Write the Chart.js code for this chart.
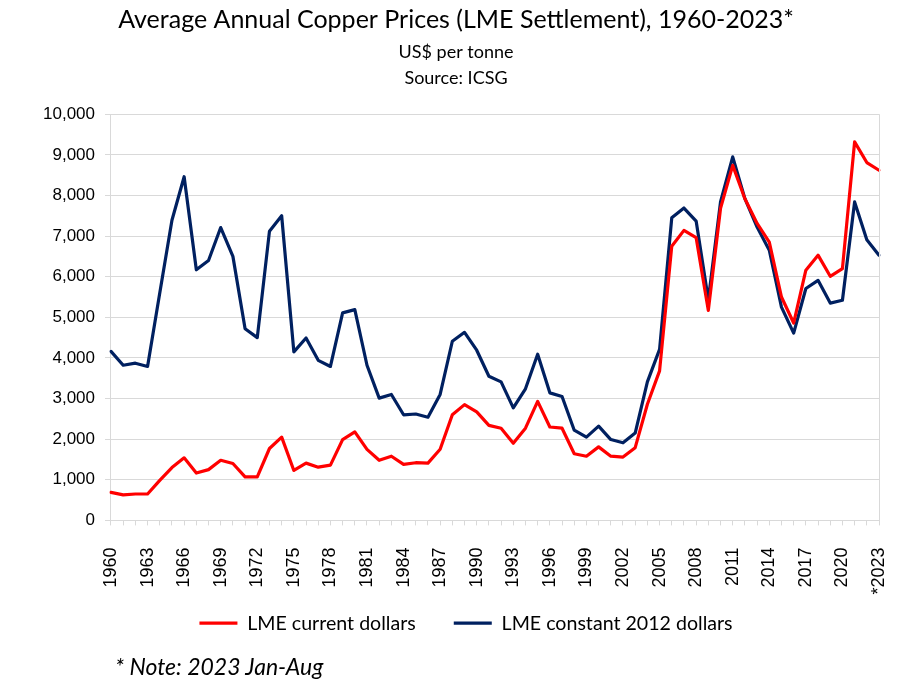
<!DOCTYPE html>
<html>
<head>
<meta charset="utf-8">
<script src="https://cdn.jsdelivr.net/npm/chart.js@4.4.0/dist/chart.umd.min.js"></script>
<style>
    html, body { margin: 0; padding: 0; background: #fff; }
    #wrap { position: relative; width: 897px; height: 680px; }
    #note { position: absolute; left: 115px; top: 652px; font: italic 23px Lato, sans-serif; color: #000; }
</style>
</head>
<body>
<div id="wrap">
    <canvas id="copperChart" width="897" height="680"></canvas>
    <div id="note">* Note: 2023 Jan-Aug</div>
</div>
<script>
// years on the x axis
var years = ['1960', '1961', '1962', '1963', '1964', '1965', '1966', '1967', '1968', '1969',
    '1970', '1971', '1972', '1973', '1974', '1975', '1976', '1977', '1978', '1979',
    '1980', '1981', '1982', '1983', '1984', '1985', '1986', '1987', '1988', '1989',
    '1990', '1991', '1992', '1993', '1994', '1995', '1996', '1997', '1998', '1999',
    '2000', '2001', '2002', '2003', '2004', '2005', '2006', '2007', '2008', '2009',
    '2010', '2011', '2012', '2013', '2014', '2015', '2016', '2017', '2018', '2019',
    '2020', '2021', '2022', '*2023'];

// LME current dollars, US$ per tonne
var currentDollars = [690, 630, 650, 650, 985, 1300, 1540, 1165, 1250, 1480,
    1400, 1070, 1070, 1770, 2050, 1230, 1410, 1310, 1360, 1990,
    2180, 1750, 1480, 1580, 1380, 1420, 1410, 1750, 2600, 2850,
    2670, 2340, 2270, 1900, 2270, 2930, 2300, 2270, 1640, 1580,
    1810, 1580, 1560, 1790, 2860, 3680, 6750, 7140, 6960, 5170,
    7680, 8740, 7920, 7310, 6850, 5500, 4860, 6160, 6530, 6010,
    6200, 9320, 8810, 8620];

// LME constant 2012 dollars, US$ per tonne
var constantDollars = [4160, 3820, 3870, 3790, 5600, 7390, 8460, 6170, 6400, 7210,
    6500, 4720, 4500, 7120, 7500, 4150, 4490, 3940, 3790, 5110,
    5190, 3820, 3010, 3100, 2600, 2620, 2540, 3100, 4410, 4630,
    4190, 3550, 3410, 2770, 3240, 4090, 3140, 3050, 2220, 2050,
    2320, 1990, 1910, 2150, 3410, 4210, 7450, 7690, 7370, 5430,
    7840, 8950, 7920, 7220, 6650, 5250, 4610, 5710, 5910, 5350,
    5420, 7840, 6910, 6530];

var labelEvery = 3;

// thin border on the right side of the plot area,
// room below the x axis so the rotated labels are not clipped,
// and the legend nudged a little to the right
var plotFrame = {
    id: 'plotFrame',
    afterLayout: function (chart) {
        chart.scales.x.bottom = chart.scales.x.top + 90;
        chart.legend.left += 10;
        chart.legend.right += 10;
    },
    afterDraw: function (chart) {
        var a = chart.chartArea;
        var ctx = chart.ctx;
        ctx.save();
        ctx.strokeStyle = '#d9d9d9';
        ctx.lineWidth = 1;
        ctx.beginPath();
        ctx.moveTo(Math.round(a.right) + 0.5, a.top);
        ctx.lineTo(Math.round(a.right) + 0.5, a.bottom);
        ctx.stroke();
        ctx.restore();
    }
};

var ctx = document.getElementById('copperChart').getContext('2d');
var copperChart = new Chart(ctx, {
    type: 'line',
    data: {
        labels: years,
        datasets: [{
            label: 'LME current dollars',
            data: currentDollars,
            borderColor: '#ff0000',
            backgroundColor: '#ff0000',
            borderWidth: 3.2,
            borderJoinStyle: 'round',
            borderCapStyle: 'round',
            pointRadius: 0,
            tension: 0,
            fill: false
        }, {
            label: 'LME constant 2012 dollars',
            data: constantDollars,
            borderColor: '#002060',
            backgroundColor: '#002060',
            borderWidth: 3.2,
            borderJoinStyle: 'round',
            borderCapStyle: 'round',
            pointRadius: 0,
            tension: 0,
            fill: false
        }]
    },
    options: {
        responsive: false,
        animation: false,
        layout: { padding: { left: 33, right: 18, top: 0, bottom: 37 } },
        plugins: {
            title: {
                display: true,
                text: 'Average Annual Copper Prices (LME Settlement), 1960-2023*',
                color: '#000',
                font: { family: 'Lato', size: 25, weight: 'normal' },
                padding: { top: 5, bottom: 4 }
            },
            subtitle: {
                display: true,
                text: ['US$ per tonne', 'Source: ICSG'],
                color: '#000',
                font: { family: 'Lato', size: 18, weight: 'normal', lineHeight: 1.45 },
                padding: { top: 0, bottom: 23 }
            },
            legend: {
                position: 'bottom',
                labels: {
                    color: '#000',
                    font: { family: 'Lato', size: 19.6 },
                    usePointStyle: true,
                    pointStyle: 'line',
                    pointStyleWidth: 38,
                    padding: 38
                }
            },
            tooltip: { enabled: false }
        },
        scales: {
            x: {
                offset: false,
                afterFit: function (scale) {
                    // let the rotated labels hang down, and no extra side padding
                    scale.height = 55;
                    scale.paddingLeft = 0;
                    scale.paddingRight = 0;
                },
                grid: {
                    drawOnChartArea: false,
                    drawTicks: true,
                    tickLength: 5,
                    color: '#d9d9d9'
                },
                border: { color: '#d9d9d9' },
                ticks: {
                    autoSkip: false,
                    maxRotation: 90,
                    minRotation: 90,
                    padding: 22,
                    color: '#000',
                    font: { family: 'Liberation Sans', size: 18 },
                    callback: function (value, index) {
                        return index % labelEvery === 0 ? years[index] : '';
                    }
                }
            },
            y: {
                min: 0,
                max: 10000,
                grid: {
                    color: '#d9d9d9',
                    lineWidth: 1,
                    drawTicks: true,
                    tickLength: 6
                },
                border: { color: '#d9d9d9' },
                ticks: {
                    stepSize: 1000,
                    padding: 10,
                    color: '#000',
                    font: { family: 'Liberation Sans', size: 17 },
                    callback: function (value) {
                        return value.toLocaleString('en-US');
                    }
                }
            }
        }
    },
    plugins: [plotFrame]
});
</script>
</body>
</html>
